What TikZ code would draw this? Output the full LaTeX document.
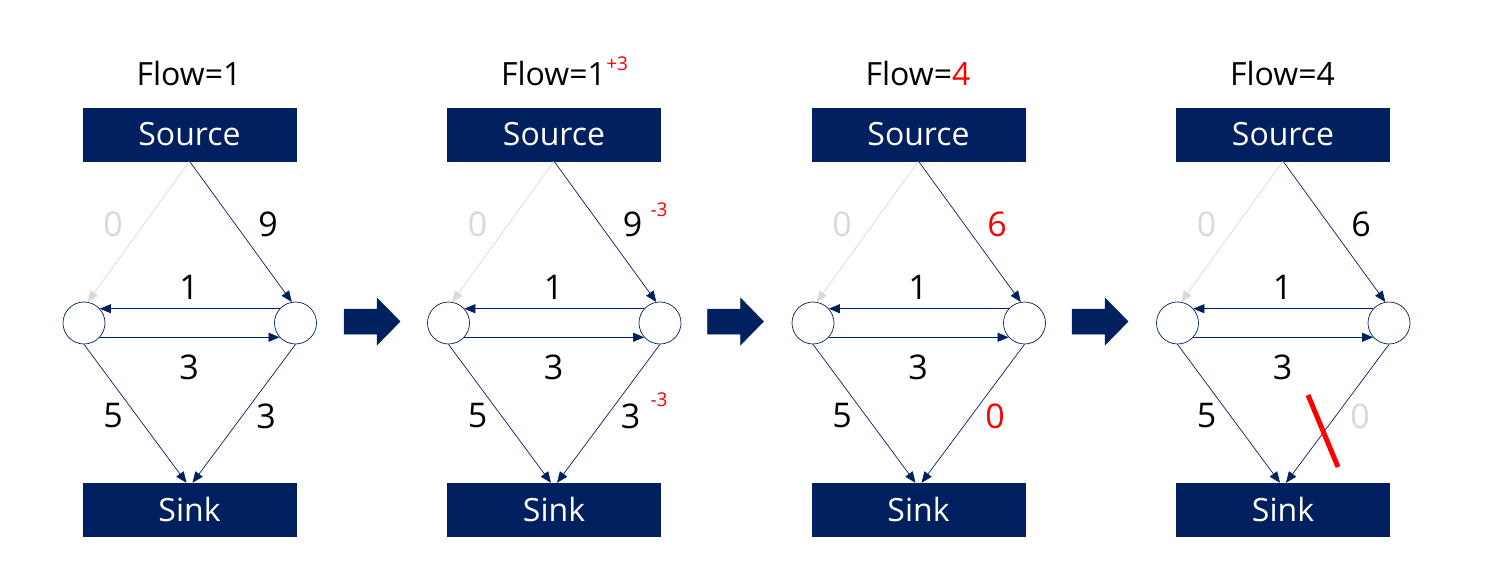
\documentclass[tikz,border=0pt]{standalone}
\usepackage{fontspec}
\setmainfont{Open Sans}
\usetikzlibrary{arrows.meta}
\definecolor{navy}{HTML}{002060}
\definecolor{lgray}{HTML}{D9D9D9}
\begin{document}
\begin{tikzpicture}[x=1pt,y=-1pt,
  box/.style={fill=navy,draw=navy,minimum width=213pt,minimum height=53pt,inner sep=0pt,text=white,font=\fontsize{32}{38}\selectfont},
  vert/.style={circle,draw=navy,fill=white,minimum size=42pt,inner sep=0pt,line width=0.7pt},
  fedge/.style={draw=navy,line width=0.7pt,-{Triangle[length=11pt,width=9pt]}},
  gedge/.style={fedge,draw=lgray},
  lab/.style={inner sep=0pt,font=\fontsize{34}{40}\selectfont},
  sup/.style={inner sep=0pt,text=red,font=\fontsize{19}{22}\selectfont},
  ttl/.style={inner sep=0pt,font=\fontsize{32}{38}\selectfont},
  blockarrow/.style={fill=navy,draw=navy,line width=0.5pt},
]
\useasboundingbox[fill=white] (0,0) rectangle (1500,588);
\foreach \i/\dx in {1/0,2/364.5,3/729,4/1093.5} {
  \begin{scope}[xshift=\dx]
    \node[box] (s\i) at (189.5,134.5) {Source};
    \node[box] (k\i) at (189.5,509.5) {Sink};
    \node[vert] (a\i) at (84,323) {};
    \node[vert] (b\i) at (295.5,323) {};
    \draw[gedge] (s\i.south) -- (a\i.80);
    \draw[fedge] (s\i.south) -- (b\i.100);
    \draw[fedge] (b\i.138) -- (a\i.42);
    \draw[fedge] (a\i.-42) -- (b\i.222);
    \draw[fedge] (a\i.south) -- ([xshift=-3pt]k\i.north);
    \draw[fedge] (b\i.south) -- ([xshift=3pt]k\i.north);
    \node[lab,text=lgray] (z\i) at (113,224) {0};
    \node[lab] (u\i) at (189,287) {1};
    \node[lab] (m\i) at (189,367) {3};
    \node[lab] (f\i) at (113,416) {5};
  \end{scope}
}
% block arrows
\foreach \dx in {0,363.5,728} {
  \begin{scope}[xshift=\dx]
    \fill[blockarrow] (344,309) -- (377,309) -- (377,298) -- (400,321.5) -- (377,345) -- (377,334) -- (344,334) -- cycle;
  \end{scope}
}
% panel 1
\node[ttl] (t1) at (189,74) {Flow=1};
\node[lab] (n1) at (268,224) {9};
\node[lab] (r1) at (266,416) {3};
% panel 2
\node[ttl] (t2) at (553.5,74) {Flow=1};
\node[sup,anchor=west] (p2) at ([xshift=0pt,yshift=-2pt]t2.north east) {+3};
\node[lab] (n2) at (632.5,224) {9};
\node[sup] (q2) at (659,210) {-3};
\node[lab] (r2) at (630.5,416) {3};
\node[sup] (w2) at (659,400) {-3};
% panel 3
\node[ttl] (t3) at (918,74) {Flow=\textcolor{red}{4}};
\node[lab,text=red] (n3) at (997,224) {6};
\node[lab,text=red] (r3) at (995,416) {0};
% panel 4
\node[ttl] (t4) at (1282.5,74) {Flow=4};
\node[lab] (n4) at (1361,224) {6};
\node[lab,text=lgray] (r4) at (1360,416) {0};
\coordinate (c1) at (1308,395);
\coordinate (c2) at (1338,467);
\draw[red,line width=5pt] (c1) -- (c2);
\end{tikzpicture}
\end{document}
